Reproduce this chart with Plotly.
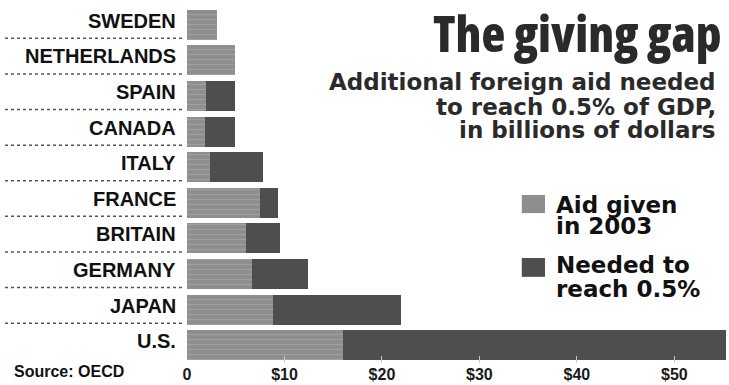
import plotly.graph_objects as go

countries = ["SWEDEN", "NETHERLANDS", "SPAIN", "CANADA", "ITALY",
             "FRANCE", "BRITAIN", "GERMANY", "JAPAN", "U.S."]
aid_given = [3.1, 4.9, 1.9, 1.8, 2.4, 7.5, 6.1, 6.7, 8.8, 16.0]
needed = [0.0, 0.0, 3.0, 3.1, 5.4, 1.8, 3.4, 5.7, 13.2, 39.3]
tick_vals = [0, 10, 20, 30, 40, 50]
tick_text = ["0", "$10", "$20", "$30", "$40", "$50"]

LIGHT = "#8e8e8e"
DARK = "#4e4e4e"
LABEL_FONT = "Liberation Sans, Arial, sans-serif"
HEAVY_FONT = "DejaVu Sans, Verdana, sans-serif"
COND_FONT = "Open Sans, Liberation Sans, sans-serif"

fig = go.Figure()
fig.add_trace(go.Bar(
    y=countries, x=aid_given, orientation="h", name="Aid given in 2003",
    marker=dict(color=LIGHT, line=dict(width=0),
                pattern=dict(shape="-", fgcolor="#b0b0b0", bgcolor=LIGHT,
                             size=5, solidity=0.25)),
))
fig.add_trace(go.Bar(
    y=countries, x=needed, orientation="h", name="Needed to reach 0.5%",
    marker=dict(color=DARK, line=dict(width=0)),
))

fig.update_layout(
    barmode="stack", bargap=0.16, showlegend=False,
    width=729, height=385,
    margin=dict(l=187, r=2, t=7, b=22),
    paper_bgcolor="white", plot_bgcolor="white",
    hovermode=False,
    xaxis=dict(range=[0, 55.4], tickvals=tick_vals, ticktext=tick_text,
               showgrid=False, zeroline=False, showline=False,
               ticks="inside", ticklen=7, tickcolor="#c8c8c8", tickwidth=1,
               tickfont=dict(family=LABEL_FONT, size=16, color="#1a1a1a",
                             weight="bold")),
    yaxis=dict(autorange="reversed", showticklabels=False, showgrid=False,
               zeroline=False, showline=False, ticks=""),
)

# category labels
for c in countries:
    fig.add_annotation(x=0, xref="paper", y=c, yref="y", text=c,
                       showarrow=False, xanchor="right", xshift=-9, yshift=4,
                       font=dict(family=LABEL_FONT, size=20, color="#111111",
                                 weight="bold"))

# dotted separators between rows
for i in range(len(countries) - 1):
    fig.add_shape(type="line", xref="paper", yref="y",
                  x0=-0.337, x1=-0.004, y0=i + 0.38, y1=i + 0.38,
                  line=dict(color="#555555", width=1.5, dash="dot"))

# title
fig.add_annotation(x=0.993, xref="paper", y=0.9256, yref="paper",
                   text='<span style="font-stretch:77%">The giving gap</span>',
                   showarrow=False, xanchor="right", yanchor="middle",
                   font=dict(family=COND_FONT, size=49, color="#2a2a2a",
                             weight=800))
# subtitle
for txt, yy in [("Additional foreign aid needed", 0.789),
                ("to reach 0.5% of GDP,", 0.719),
                ("in billions of dollars", 0.654)]:
    fig.add_annotation(x=0.983, xref="paper", y=yy, yref="paper", text=txt,
                       showarrow=False, xanchor="right", yanchor="middle",
                       font=dict(family=HEAVY_FONT, size=23, color="#2a2a2a",
                                 weight="bold"))

# legend
fig.add_shape(type="rect", xref="paper", yref="paper",
              x0=0.620, x1=0.663, y0=0.421, y1=0.472,
              fillcolor=LIGHT, line=dict(width=0))
fig.add_shape(type="rect", xref="paper", yref="paper",
              x0=0.620, x1=0.663, y0=0.242, y1=0.295,
              fillcolor=DARK, line=dict(width=0))
for txt, yy in [("Aid given", 0.444), ("in 2003", 0.385),
                ("Needed to", 0.275), ("reach 0.5%", 0.208)]:
    fig.add_annotation(x=0.68, xref="paper", y=yy, yref="paper", text=txt,
                       showarrow=False, xanchor="left", yanchor="middle",
                       font=dict(family=HEAVY_FONT, size=23, color="#111111",
                                 weight="bold"))

# source
fig.add_annotation(x=-0.324, xref="paper", y=-0.025, yref="paper",
                   text="Source: OECD", showarrow=False,
                   xanchor="left", yanchor="middle",
                   font=dict(family=LABEL_FONT, size=16, color="#111111",
                             weight="bold"))

fig.write_html(
    "out.html",
    config={"displayModeBar": False},
    post_script="document.body.style.margin='0';"
                "document.body.style.overflow='hidden';",
)
